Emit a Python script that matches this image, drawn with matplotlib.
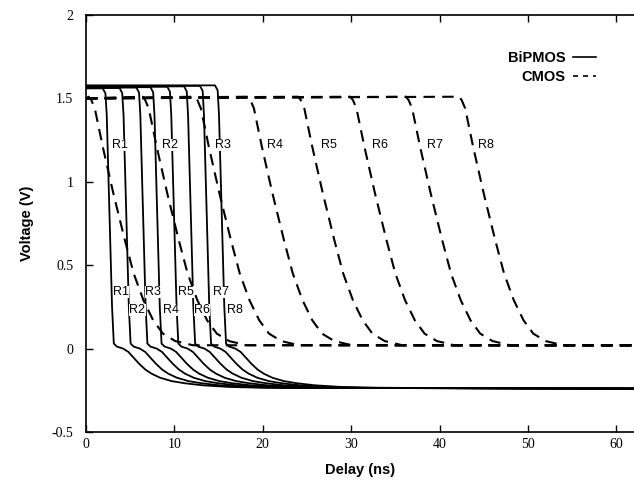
import matplotlib.pyplot as plt
import numpy as np

# BiPMOS (solid): time where each fall starts, and the shared fall/tail shape
bipmos_start = [2.2, 4.1, 6.0, 7.6, 9.5, 11.4, 13.2, 14.9]
bipmos_top = [1.560, 1.562, 1.565, 1.567, 1.570, 1.572, 1.575, 1.578]
bipmos_dt = [-0.3, 0.0, 0.15, 0.75, 0.95, 1.3, 2.0, 2.6, 3.2, 3.8, 4.5, 5.2, 6.2,
             7.5, 9.0, 11.0, 14.0, 18.0]
bipmos_v = [None, -0.03, 1.40, 0.25, 0.03, 0.012, 0.0, -0.02, -0.055, -0.09, -0.125,
            -0.15, -0.175, -0.195, -0.208, -0.22, -0.23, -0.235]
bipmos_end = -0.24

# CMOS (dashed)
cmos_start = [0.3, 6.4, 12.3, 18.3, 24.0, 29.9, 36.2, 42.2]
cmos_top = 1.50
cmos_dt = [0.0, 0.3, 0.7, 1.6, 2.8, 4.1, 5.1, 6.2, 7.3, 8.4, 9.8, 11.8]
cmos_v = [1.51, 1.49, 1.44, 1.21, 0.93, 0.65, 0.45, 0.29, 0.17, 0.09, 0.045, 0.02]
cmos_end = 0.02

names = ["R1", "R2", "R3", "R4", "R5", "R6", "R7", "R8"]
# label positions (x, y)
cmos_lab_x = [2.9, 8.6, 14.6, 20.5, 26.6, 32.4, 38.6, 44.4]
cmos_lab_y = 1.22
bip_lab_x = [3.06, 4.9, 6.7, 8.7, 10.4, 12.2, 14.4, 16.0]
bip_lab_y = [0.34, 0.23, 0.34, 0.23, 0.34, 0.23, 0.34, 0.23]

x_max = 62

fig = plt.figure(figsize=(6.34, 4.83), dpi=100)
ax = fig.add_axes([0.1356, 0.1056, 0.8644, 0.8634])

for t0, top in zip(bipmos_start, bipmos_top):
    xs = [0.0] + [t0 + d for d in bipmos_dt] + [x_max]
    ys = [top, top] + [top + bipmos_v[1]] + bipmos_v[2:] + [bipmos_end]
    ax.plot(xs, ys, color="black", lw=1.3, solid_joinstyle="round")

for t0 in cmos_start:
    xs = [0.0] + [t0 + d for d in cmos_dt] + [x_max]
    ys = [cmos_top] + cmos_v + [cmos_end]
    ax.plot(xs, ys, color="black", lw=1.5, dashes=(5.5, 3.5))

lab_font = dict(family="Liberation Sans", fontsize=9, va="center", ha="left")
for n, x in zip(names, cmos_lab_x):
    ax.text(x, cmos_lab_y, n, bbox=dict(fc="white", ec="none", pad=0.2), **lab_font)
for n, x, y in zip(names, bip_lab_x, bip_lab_y):
    ax.text(x, y, n, bbox=dict(fc="white", ec="none", pad=0.2), **lab_font)

# legend
ax.plot([], [], color="black", lw=1.2, label="BiPMOS")
ax.plot([], [], color="black", lw=1.2, dashes=(3, 3), label="CMOS")
h, l = ax.get_legend_handles_labels()
ax.legend(h[-2:], l[-2:], loc="upper right", bbox_to_anchor=(0.955, 0.945),
          frameon=False, markerfirst=False, handlelength=1.6, handletextpad=0.5,
          labelspacing=0.35, prop=dict(family="Liberation Sans", size=10.5, weight="bold"))

ax.set_xlim(0, x_max)
ax.set_ylim(-0.5, 2)
ax.set_xticks([0, 10, 20, 30, 40, 50, 60])
ax.set_yticks([-0.5, 0, 0.5, 1, 1.5, 2])
ax.set_yticklabels(["-0.5", "0", "0.5", "1", "1.5", "2"])
ax.tick_params(direction="in", top=True, length=5, width=1)
ax.tick_params(axis="y", pad=9)
ax.tick_params(axis="x", pad=4)
for lab in ax.get_xticklabels() + ax.get_yticklabels():
    lab.set_fontfamily("Liberation Serif")
    lab.set_fontsize(10)
ax.spines["right"].set_visible(False)
for s in ["left", "bottom", "top"]:
    ax.spines[s].set_linewidth(1.2)

ax.set_xlabel("Delay (ns)", family="Liberation Sans", fontsize=10.5, weight="bold", labelpad=9)
ax.set_ylabel("Voltage (V)", family="Liberation Sans", fontsize=10.5, weight="bold", labelpad=13)

fig.savefig("out.png", dpi=100)
